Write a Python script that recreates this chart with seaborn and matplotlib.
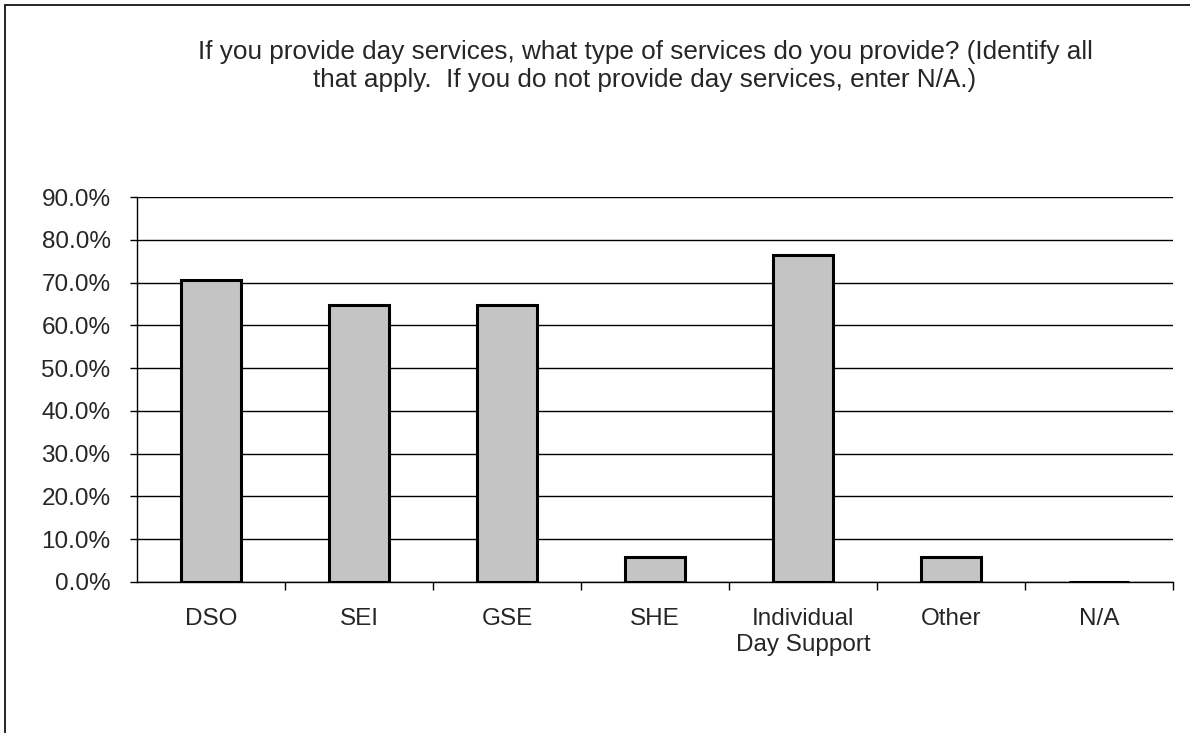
import matplotlib
matplotlib.use("Agg")
import matplotlib.pyplot as plt
import seaborn as sns
import pandas as pd
from matplotlib.patches import Rectangle
from matplotlib.ticker import FuncFormatter, FixedLocator

categories = ["DSO", "SEI", "GSE", "SHE", "Individual\nDay Support", "Other", "N/A"]
values = [70.6, 64.7, 64.7, 5.9, 76.5, 5.9, 0.0]
y_ticks = [0, 10, 20, 30, 40, 50, 60, 70, 80, 90]
title = ("If you provide day services, what type of services do you provide? (Identify all\n"
         "that apply.  If you do not provide day services, enter N/A.)")

sns.set_style("white")
plt.rcParams['font.family'] = ['Liberation Sans', 'DejaVu Sans']

df = pd.DataFrame({"cat": categories, "val": values})

fig = plt.figure(figsize=(11.9, 7.33), dpi=100)
ax = fig.add_axes([137/1190, 1-582/733, (1173-137)/1190, (582-197)/733])

sns.barplot(data=df, x="cat", y="val", ax=ax, color="#c4c4c4", width=0.40,
            edgecolor="black", linewidth=2.2, saturation=1)

ax.set_xlim(-0.5, len(categories) - 0.5)
ax.set_ylim(0, 90)
ax.set_yticks(y_ticks)
ax.yaxis.set_major_formatter(FuncFormatter(lambda v, p: f"{v:.1f}%"))
ax.yaxis.grid(True, color="black", linewidth=1.0)
ax.set_axisbelow(True)
ax.set_xlabel("")
ax.set_ylabel("")

ax.tick_params(axis="y", length=5, width=1, color="black", pad=14,
               labelsize=17.5, direction="out", left=True)
ax.tick_params(axis="x", which="major", length=0, pad=19, labelsize=17.5)
ax.xaxis.set_minor_locator(FixedLocator([i + 0.5 for i in range(len(categories))]))
ax.tick_params(axis="x", which="minor", length=6, width=1, color="black",
               direction="out", bottom=True)
for lbl in ax.get_xticklabels():
    lbl.set_linespacing(1.2)

for s in ["top", "right"]:
    ax.spines[s].set_visible(False)
for s in ["left", "bottom"]:
    ax.spines[s].set_color("black")
    ax.spines[s].set_linewidth(1.0)

fig.text(645/1190, 1-66/733, title, ha="center", va="center", fontsize=18.8,
         linespacing=1.2)

fig.patches.append(Rectangle((5/1190, -0.1), 1.2, 1-5/733 + 0.1,
                             transform=fig.transFigure, fill=False,
                             edgecolor="black", linewidth=1.2))

fig.savefig("out.png", dpi=100, facecolor="white")
